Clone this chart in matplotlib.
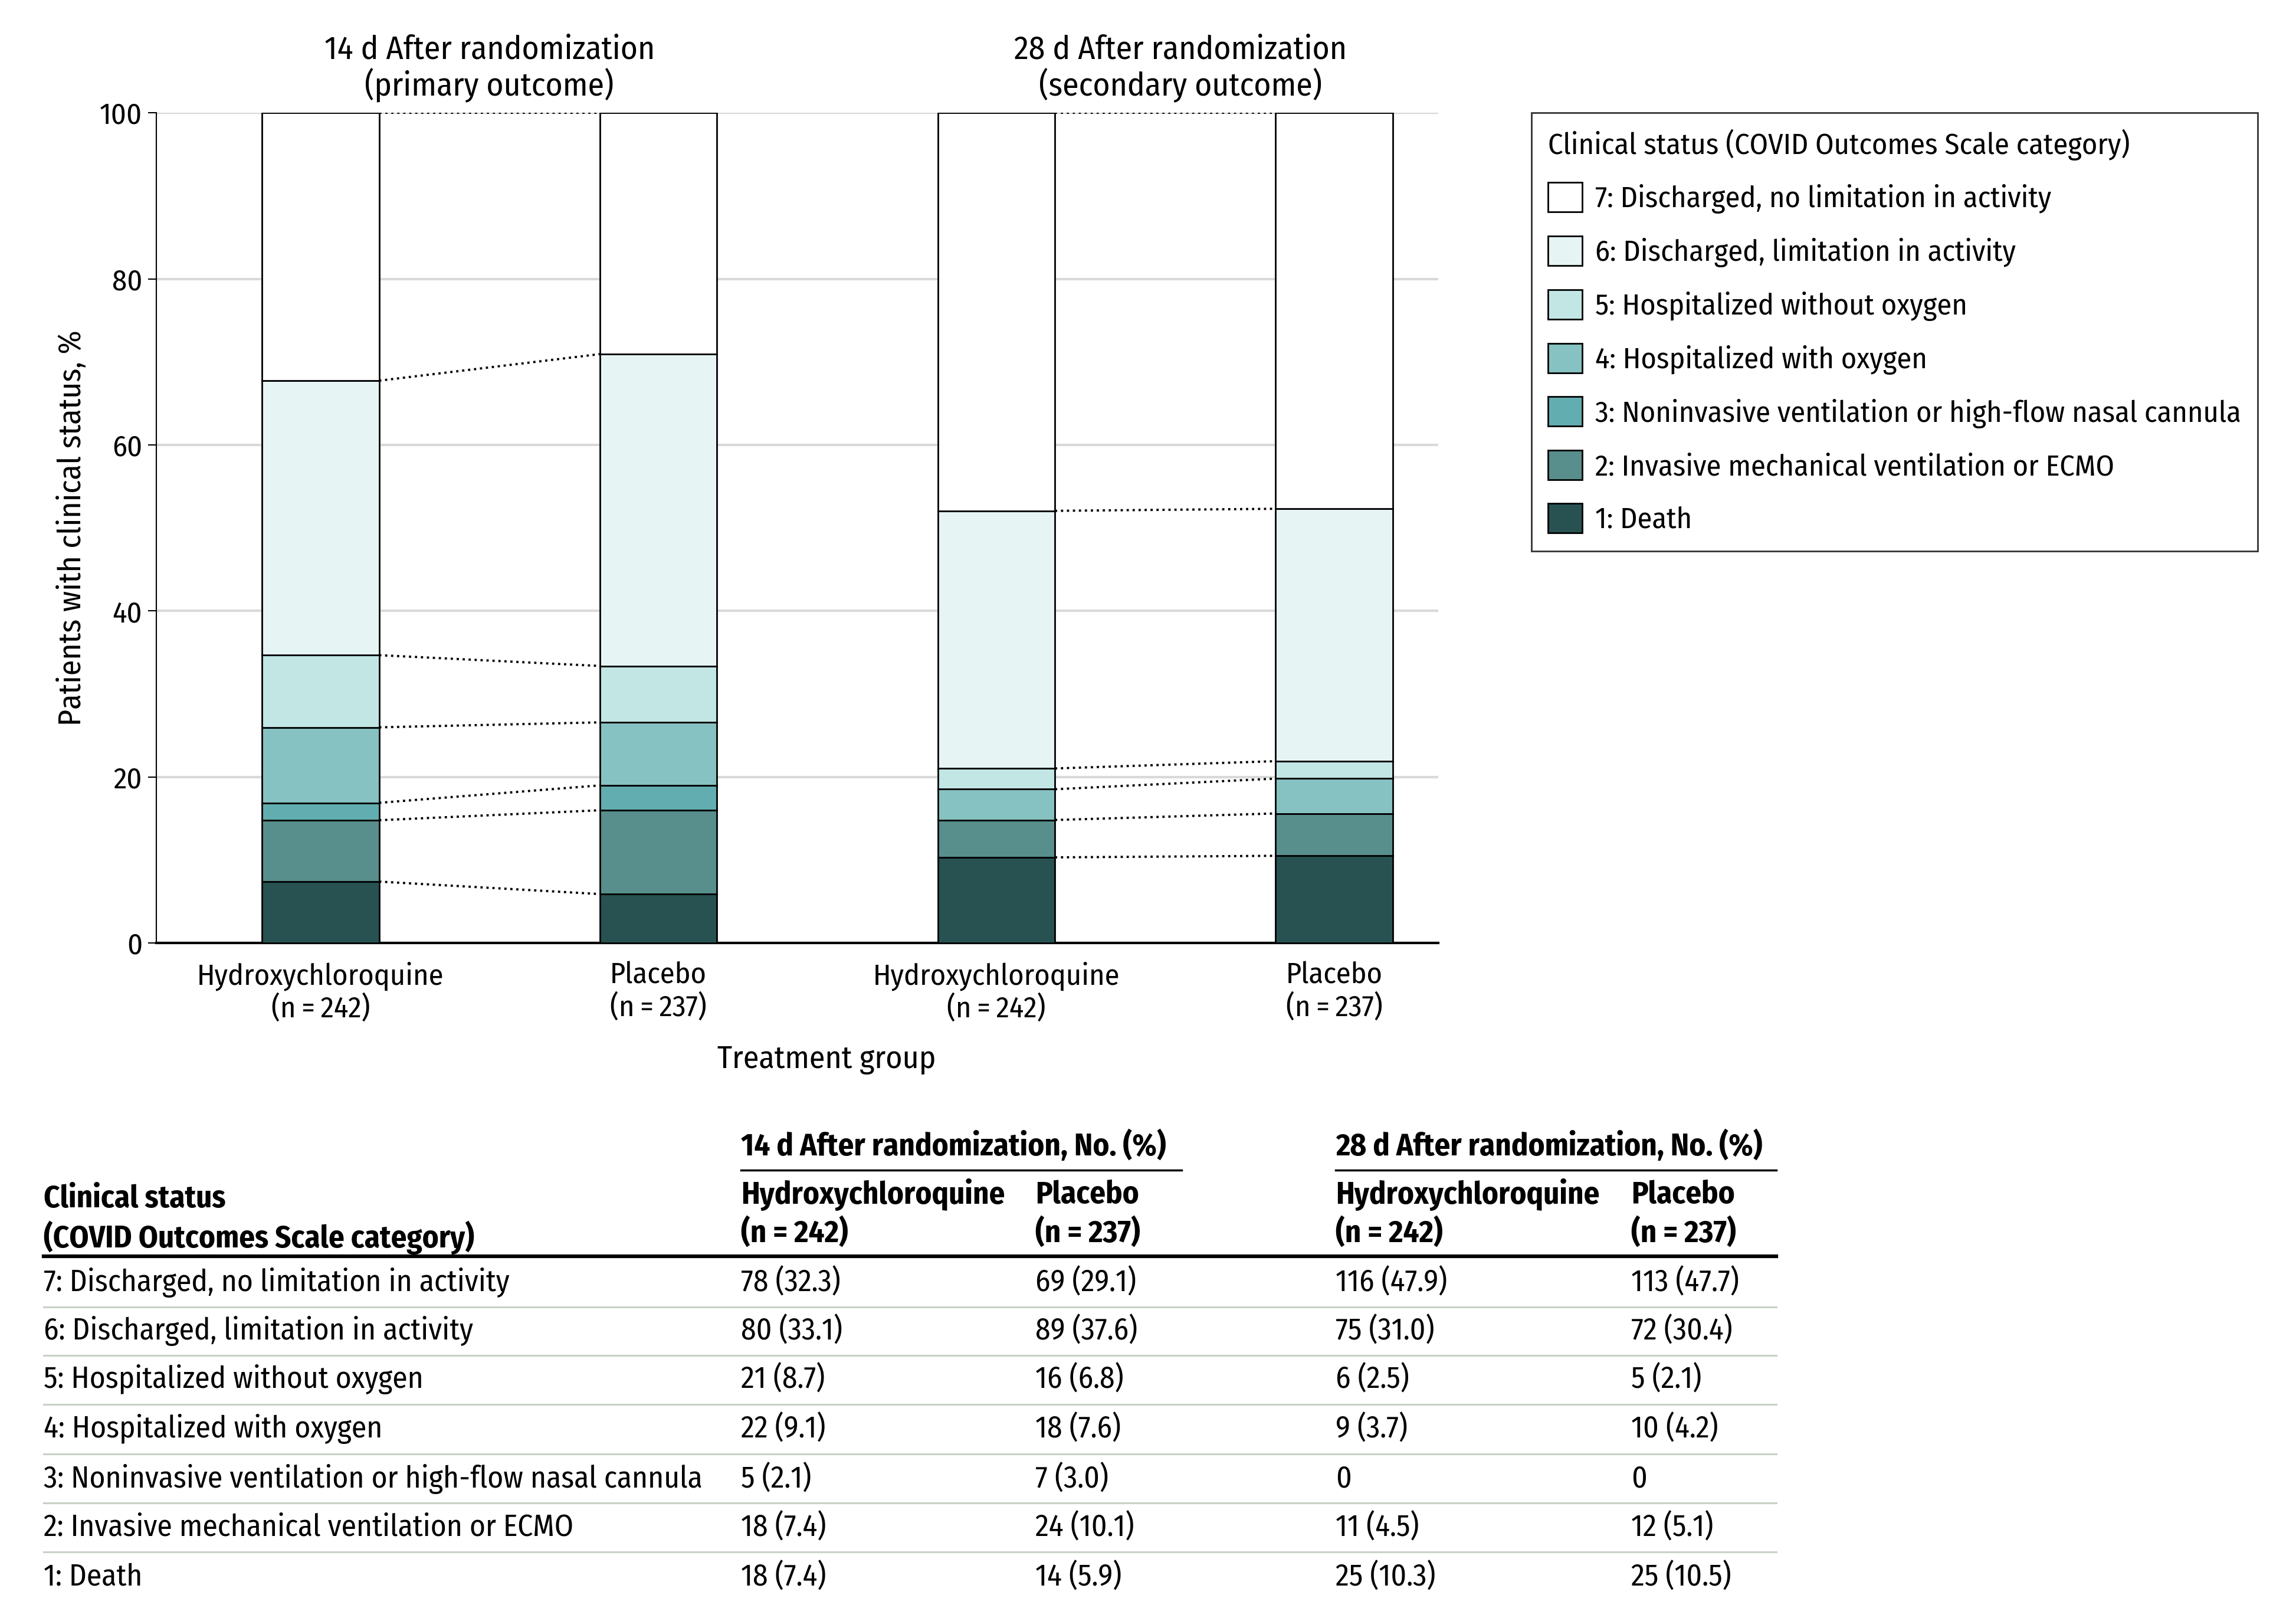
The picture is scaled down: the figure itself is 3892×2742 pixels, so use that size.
import numpy as np
import matplotlib
matplotlib.use("Agg")
import matplotlib.pyplot as plt
from matplotlib.patches import Patch

plt.rcParams['font.family'] = ['Fira Sans Condensed', 'Ubuntu Condensed', 'Roboto Condensed',
                               'PT Sans Narrow', 'DejaVu Sans']
plt.rcParams['font.size'] = 14.5

categories = ["7: Discharged, no limitation in activity",
              "6: Discharged, limitation in activity",
              "5: Hospitalized without oxygen",
              "4: Hospitalized with oxygen",
              "3: Noninvasive ventilation or high-flow nasal cannula",
              "2: Invasive mechanical ventilation or ECMO",
              "1: Death"]
colors = ["#FFFFFF", "#E6F4F4", "#C1E6E4", "#86C2C1", "#62ADAF", "#588E8C", "#285252"]

group_names = ["Hydroxychloroquine", "Placebo", "Hydroxychloroquine", "Placebo"]
group_n = [242, 237, 242, 237]
period_titles = ["14 d After randomization\n(primary outcome)",
                 "28 d After randomization\n(secondary outcome)"]

hcq14_n = [78, 80, 21, 22, 5, 18, 18]
hcq14_pct = [32.3, 33.1, 8.7, 9.1, 2.1, 7.4, 7.4]
pbo14_n = [69, 89, 16, 18, 7, 24, 14]
pbo14_pct = [29.1, 37.6, 6.8, 7.6, 3.0, 10.1, 5.9]
hcq28_n = [116, 75, 6, 9, 0, 11, 25]
hcq28_pct = [47.9, 31.0, 2.5, 3.7, 0.0, 4.5, 10.3]
pbo28_n = [113, 72, 5, 10, 0, 12, 25]
pbo28_pct = [47.7, 30.4, 2.1, 4.2, 0.0, 5.1, 10.5]

all_n = [hcq14_n, pbo14_n, hcq28_n, pbo28_n]
all_pct = [hcq14_pct, pbo14_pct, hcq28_pct, pbo28_pct]

fig = plt.figure(figsize=(15.568, 10.968), dpi=250)

# ---- stacked bar chart ----
ax = fig.add_axes([0.0682, 0.4172, 0.5581, 0.5131])
pos = np.arange(4)
w = 0.347
tops = []
for i, pct in enumerate(all_pct):
    vals = np.array(pct[::-1])          # bottom = death
    vals = vals / vals.sum() * 100
    bottom = 0
    cum = []
    for j, v in enumerate(vals):
        ax.bar(pos[i], v, w, bottom=bottom, color=colors[::-1][j],
               edgecolor='black', linewidth=0.8, zorder=3)
        bottom += v
        cum.append(bottom)
    tops.append(cum)

# dotted connectors between hydroxychloroquine and placebo bars
for a, b in [(0, 1), (2, 3)]:
    seen = set()
    for ya, yb in zip(tops[a], tops[b]):
        key = (round(ya, 2), round(yb, 2))
        if key in seen:
            continue
        seen.add(key)
        ax.plot([pos[a] + w / 2, pos[b] - w / 2], [ya, yb], ls=':', color='black',
                lw=1.1, zorder=4)

ax.set_xlim(-0.485, 3.307)
ax.set_ylim(0, 100)
ax.set_yticks(range(0, 101, 20))
ax.yaxis.grid(True, color='#d9d9d9', lw=1.2, zorder=0)
ax.set_axisbelow(True)
ax.set_xticks(pos)
ax.set_xticklabels([f"{g}\n(n\u2009=\u2009{n})" for g, n in zip(group_names, group_n)],
                   linespacing=1.15)
ax.tick_params(axis='x', length=0, pad=9)
ax.tick_params(axis='y', length=4, width=0.6, pad=3)
for s in ['top', 'right']:
    ax.spines[s].set_visible(False)
ax.spines['left'].set_linewidth(0.6)
ax.spines['bottom'].set_linewidth(1.2)
ax.set_ylabel("Patients with clinical status, %", fontsize=15.5, labelpad=6)
ax.set_xlabel("Treatment group", fontsize=15.5)
ax.xaxis.set_label_coords(0.523, -0.122)
trans = ax.get_xaxis_transform()
ax.text(0.5, 1.012, period_titles[0], transform=trans, ha='center', va='bottom',
        fontsize=16, linespacing=1.1)
ax.text(2.545, 1.012, period_titles[1], transform=trans, ha='center', va='bottom',
        fontsize=16, linespacing=1.1)

# ---- legend ----
handles = [Patch(facecolor=c, edgecolor='black', linewidth=0.8) for c in colors]
leg = fig.legend(handles, categories, title="Clinical status (COVID Outcomes Scale category)",
                 loc='upper left', bbox_to_anchor=(0.667, 0.9305), borderaxespad=0,
                 frameon=True, fancybox=False, edgecolor='black',
                 handlelength=1.15, handleheight=1.15, labelspacing=0.75,
                 handletextpad=0.45, borderpad=0.55,
                 title_fontsize=14.5, fontsize=14.5)
leg.get_frame().set_linewidth(0.8)
leg._legend_box.align = "left"

# ---- table (layout in reference pixel units) ----
tx = fig.add_axes([0, 0, 1, 1])
tx.axis('off')
tx.set_xlim(0, 1568)
tx.set_ylim(1105, 0)

hfs = 15.2
col_x = [506, 707, 912, 1114]
tx.text(506, 783, "14 d After randomization, No. (%)", fontweight='bold', fontsize=hfs, va='center')
tx.text(912, 783, "28 d After randomization, No. (%)", fontweight='bold', fontsize=hfs, va='center')
tx.plot([506, 807], [799, 799], color='black', lw=1.0)
tx.plot([912, 1213], [799, 799], color='black', lw=1.0)
tx.text(30, 819, "Clinical status", fontweight='bold', fontsize=hfs, va='center')
tx.text(30, 845, "(COVID Outcomes Scale category)", fontweight='bold', fontsize=hfs, va='center')
for x, g, n in zip(col_x, group_names, group_n):
    tx.text(x, 816, g, fontweight='bold', fontsize=hfs, va='center')
    tx.text(x, 842, f"(n = {n})", fontweight='bold', fontsize=hfs, va='center')
tx.plot([30, 1213], [858, 858], color='black', lw=1.8)

row_y = [876, 909, 942, 976, 1010, 1043, 1077]
for r, (cat, y) in enumerate(zip(categories, row_y)):
    tx.text(30, y, cat, va='center', fontsize=14.8)
    for x, ns, ps in zip(col_x, all_n, all_pct):
        s = "0" if ns[r] == 0 else f"{ns[r]} ({ps[r]:.1f})"
        tx.text(x, y, s, va='center', fontsize=14.8)
    if r < len(categories) - 1:
        ysep = (y + row_y[r + 1]) / 2
        tx.plot([30, 1213], [ysep, ysep], color='#c9d1c6', lw=0.9)

fig.savefig("out.png", dpi=250)
